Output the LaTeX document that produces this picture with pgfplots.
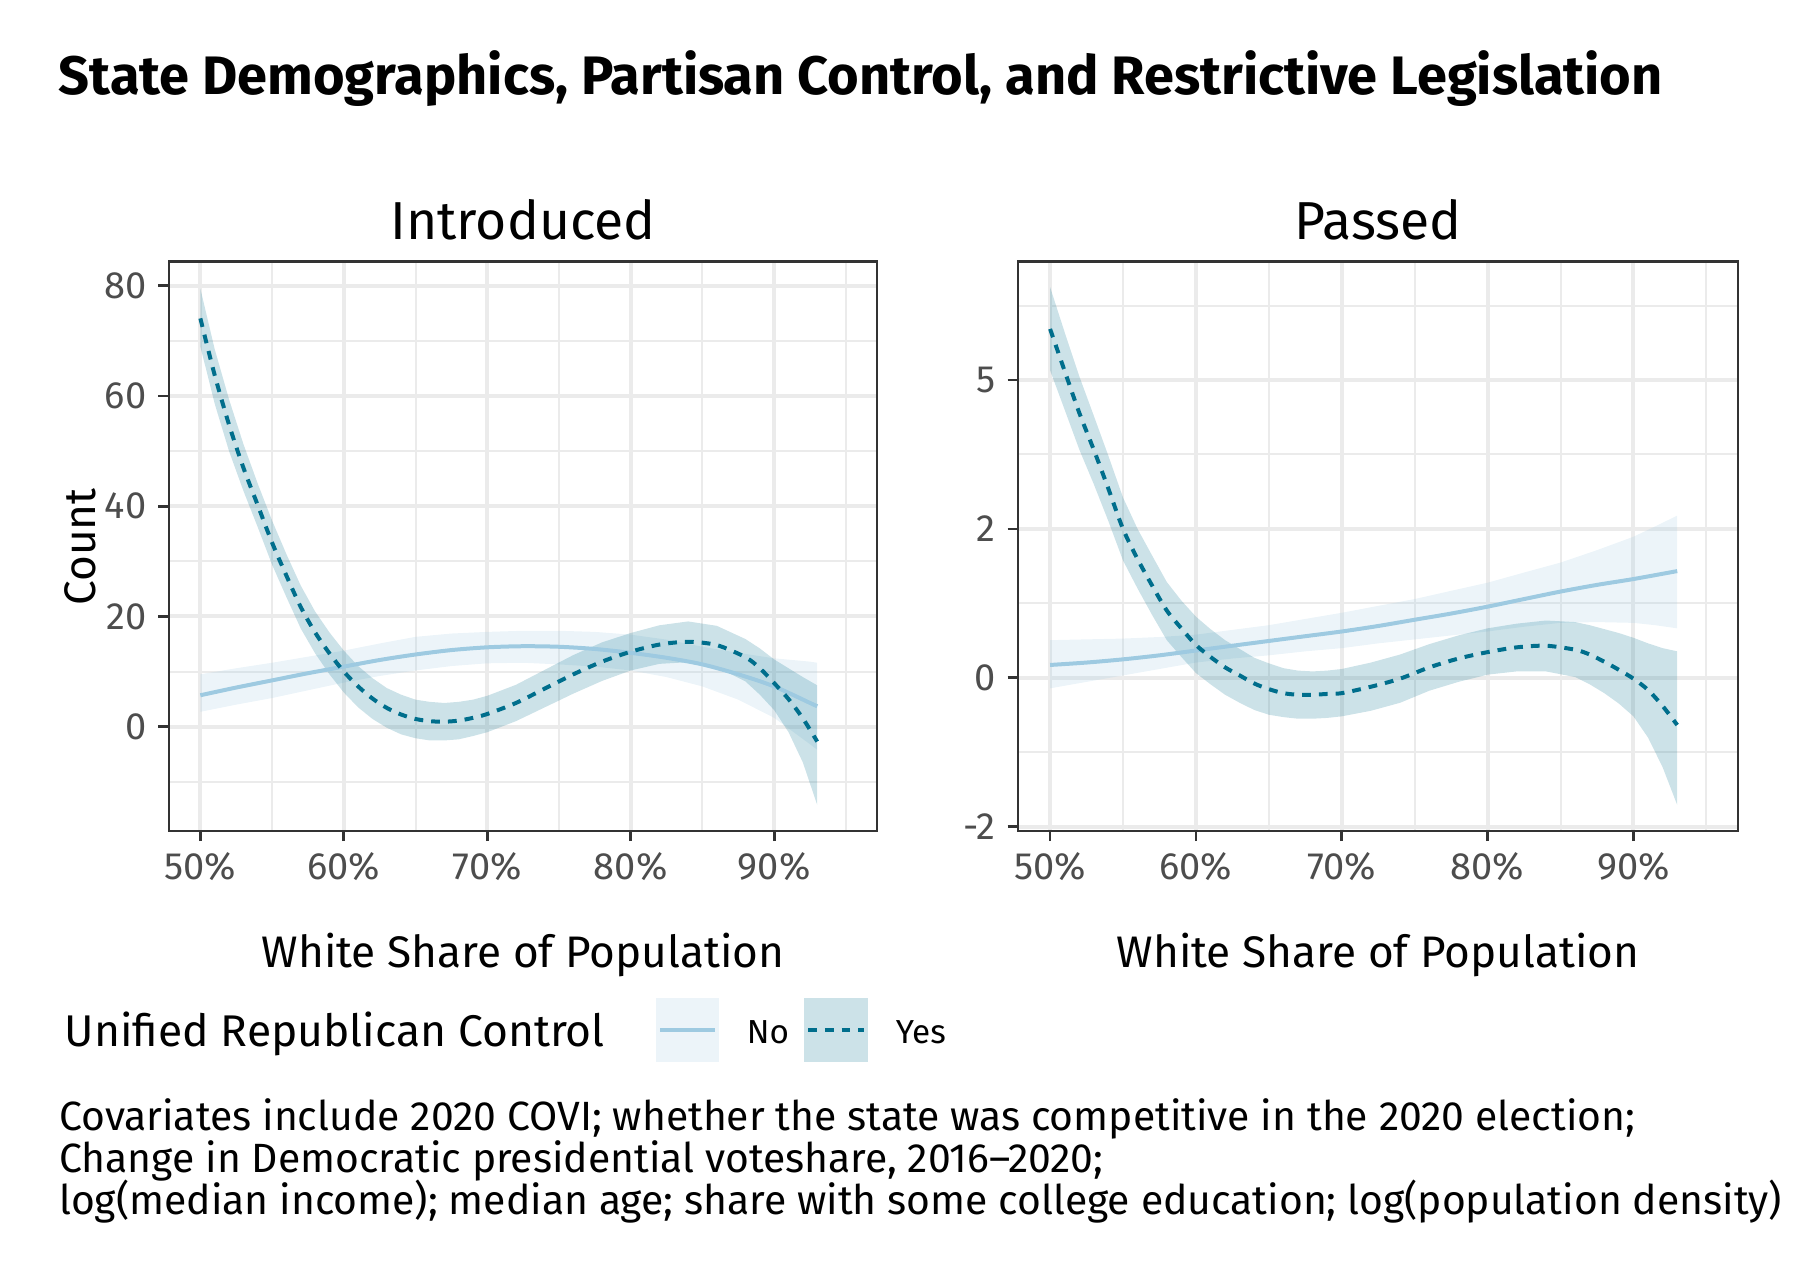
\documentclass[border=0pt]{standalone}
\usepackage{fontspec}
\setmainfont{Fira Sans}
\usepackage{pgfplots}
\pgfplotsset{compat=1.18}
\usepackage{pgfplotstable}
\usepackage{graphicx}

\definecolor{nocol}{HTML}{9ECAE1}
\definecolor{yescol}{HTML}{006E8C}
\definecolor{gridcol}{HTML}{EBEBEB}
\definecolor{framecol}{HTML}{333333}
\definecolor{tickcol}{HTML}{4D4D4D}

\newsavebox\measbox
\newcommand\calcsize[3]{\sbox\measbox{\fontsize{10}{12}\selectfont #3}\pgfmathsetmacro#1{10*#2/\the\wd\measbox}}
% pseudo-log scale of the "Passed" panel: t = asinh(3y/8)/ln 2  (2 -> 1, 5 -> 2, -2 -> -1)
\newcommand\tr[1]{ln(0.375*(#1)+sqrt(0.140625*(#1)*(#1)+1))/ln(2)}

% ===== Introduced, Yes: fitted line =====
\pgfplotstableread{
x y
50 74.1
51 63.8
52 54.8
53 47.0
54 40.2
55 33.4
56 27.4
57 21.7
58 17.1
59 13.3
60 10.0
61 7.3
62 5.1
63 3.4
64 2.2
65 1.4
66 1.0
67 0.9
68 1.1
69 1.6
70 2.3
72 4.3
74 6.9
76 9.5
78 11.8
80 13.6
82 14.9
84 15.4
86 14.8
88 12.6
89 10.6
90 7.9
91 5.0
92 1.5
93 -2.7
}\yesIntroFit
% ===== Introduced, Yes: confidence band (upper, then lower reversed) =====
\pgfplotstableread{
x y
50 79.5
51 68.5
52 59.4
53 51.3
54 44.1
55 37.4
56 31.3
57 25.6
58 20.9
59 17.1
60 13.8
61 11.0
62 8.8
63 7.0
64 5.8
65 4.9
66 4.5
67 4.3
68 4.5
69 4.9
70 5.6
72 7.6
74 10.3
76 13.0
78 15.3
80 17.0
82 18.4
84 19.1
86 18.3
88 15.9
89 14.2
90 12.2
91 10.6
92 9.0
93 7.5
93 -14.2
92 -6.5
91 -1.0
90 3.0
89 5.8
88 8.2
86 10.8
84 11.7
82 11.4
80 10.2
78 8.3
76 6.0
74 3.5
72 1.0
70 -1.0
69 -1.7
68 -2.3
67 -2.5
66 -2.5
65 -2.1
64 -1.4
63 -0.2
62 1.4
61 3.5
60 6.2
59 9.5
58 13.3
57 17.8
56 23.5
55 29.4
54 36.2
53 42.8
52 50.0
51 58.6
50 69.0
}\yesIntroBand

% ===== Introduced, No =====
\pgfplotstableread{
x y
50 5.7
52.5 7.1
55 8.4
57.5 9.7
60 10.9
62.5 12.1
65 13.1
67.5 13.9
70 14.4
72.5 14.6
75 14.5
77.5 14.1
80 13.4
82.5 12.5
85 11.3
87.5 9.5
90 7.3
92.5 4.3
93 3.7
}\noIntroFit
\pgfplotstableread{
x y
50 9.5
52.5 10.6
55 11.6
57.5 12.7
60 13.8
62.5 15.1
65 16.3
67.5 16.9
70 17.2
72.5 17.4
75 17.4
77.5 17.2
80 16.7
82.5 15.8
85 14.5
87.5 13.4
90 12.4
92.5 11.8
93 11.6
93 -4.2
92.5 -3.2
90 1.6
87.5 4.9
85 7.3
82.5 9.0
80 10.2
77.5 10.9
75 11.3
72.5 11.6
70 11.5
67.5 11.0
65 10.2
62.5 9.2
60 8.0
57.5 6.6
55 5.2
52.5 4.0
50 2.7
}\noIntroBand

% ===== Passed, Yes =====
\pgfplotstableread{
x y
50 6.50
51 5.24
52 4.19
53 3.39
54 2.66
55 2.00
56 1.55
57 1.18
58 0.85
59 0.62
60 0.41
61 0.26
62 0.13
63 0.03
64 -0.07
65 -0.14
66 -0.19
67 -0.21
68 -0.21
69 -0.20
70 -0.19
72 -0.11
74 -0.01
76 0.13
78 0.24
80 0.32
82 0.38
84 0.40
86 0.35
87 0.29
88 0.20
89 0.10
90 -0.01
91 -0.15
92 -0.35
93 -0.59
}\yesPassedFit
\pgfplotstableread{
x y
50 8.00
51 6.39
52 5.10
53 4.12
54 3.27
55 2.51
56 2.00
57 1.60
58 1.23
59 0.98
60 0.77
61 0.61
62 0.47
63 0.36
64 0.25
65 0.18
66 0.12
67 0.09
68 0.08
69 0.09
70 0.11
72 0.19
74 0.29
76 0.42
78 0.53
80 0.62
82 0.68
84 0.72
86 0.70
87 0.66
88 0.61
89 0.56
90 0.50
91 0.43
92 0.37
93 0.33
93 -1.67
92 -1.14
91 -0.75
90 -0.48
89 -0.32
88 -0.19
87 -0.08
86 0.01
84 0.08
82 0.08
80 0.04
78 -0.05
76 -0.16
74 -0.31
72 -0.41
70 -0.48
69 -0.50
68 -0.51
67 -0.51
66 -0.49
65 -0.46
64 -0.40
63 -0.31
62 -0.21
61 -0.08
60 0.06
59 0.26
58 0.47
57 0.79
56 1.14
55 1.53
54 2.12
53 2.74
52 3.40
51 4.26
50 5.26
}\yesPassedBand

% ===== Passed, No =====
\pgfplotstableread{
x y
50 0.16
52.5 0.19
55 0.23
57.5 0.28
60 0.34
62.5 0.40
65 0.46
67.5 0.52
70 0.58
72.5 0.65
75 0.73
77.5 0.81
80 0.90
82.5 1.00
85 1.10
87.5 1.19
90 1.27
93 1.38
}\noPassedFit
\pgfplotstableread{
x y
50 0.47
52.5 0.48
55 0.49
57.5 0.51
60 0.54
62.5 0.60
65 0.66
67.5 0.74
70 0.82
72.5 0.91
75 1.00
77.5 1.11
80 1.22
82.5 1.36
85 1.50
87.5 1.68
90 1.88
91.5 2.04
93 2.21
93 0.62
91.5 0.66
90 0.69
87.5 0.70
85 0.69
82.5 0.64
80 0.58
77.5 0.53
75 0.48
72.5 0.43
70 0.37
67.5 0.33
65 0.28
62.5 0.24
60 0.19
57.5 0.11
55 0.03
52.5 -0.05
50 -0.13
}\noPassedBand

\pgfplotsset{
  panel/.style={
    scale only axis, anchor=north west,
    xmin=47.8, xmax=97.17,
    xtick={50,60,70,80,90},
    xticklabels={50\%,60\%,70\%,80\%,90\%},
    minor xtick={55,65,75,85,95},
    grid=both,
    major grid style={draw=gridcol, line width=1pt},
    minor grid style={draw=gridcol, line width=0.5pt},
    axis line style={draw=framecol, line width=0.6pt},
    tick pos=left, tick align=outside,
    major tick length=2.6pt, minor tick length=0pt,
    tick style={draw=framecol, line width=0.7pt},
    tick label style={font=\fontsize{9.5}{10}\selectfont, text=tickcol},
    xticklabel style={inner sep=0pt, yshift=-2.6pt},
    yticklabel style={inner sep=0pt, xshift=-2.8pt},
    /pgf/number format/assume math mode=true,
  },
  noband/.style={fill=nocol, fill opacity=0.2, draw=none, no markers},
  yesband/.style={fill=yescol, fill opacity=0.2, draw=none, no markers},
  noline/.style={draw=nocol, line width=1pt, smooth, no markers},
  yesline/.style={draw=yescol, line width=1pt, dash pattern=on 2.2pt off 2pt, smooth, no markers},
}

\begin{document}%
\calcsize{\titlesize}{401}{\bfseries State Demographics, Partisan Control, and Restrictive Legislation}%
\calcsize{\facetsize}{66.3}{Introduced}%
\calcsize{\labsize}{130.6}{White Share of Population}%
\calcsize{\legtitlesize}{135}{Unified Republican Control}%
\calcsize{\legsize}{12.5}{Yes}%
\calcsize{\capsize}{394}{Covariates include 2020 COVI; whether the state was competitive in the 2020 election;}%
\begin{tikzpicture}
\path[use as bounding box] (0pt,0pt) rectangle (450pt,-318.25pt);

% ---------------- Introduced ----------------
\begin{axis}[panel, at={(42.2pt,-65.4pt)}, width=177.06pt, height=142.3pt,
  ymin=-18.9, ymax=84.4,
  ytick={0,20,40,60,80}, minor ytick={-10,10,30,50,70}]
\addplot[noband] table[x=x,y=y]{\noIntroBand} -- cycle;
\addplot[yesband] table[x=x,y=y]{\yesIntroBand} -- cycle;
\addplot[noline] table[x=x,y=y]{\noIntroFit};
\addplot[yesline] table[x=x,y=y]{\yesIntroFit};
\end{axis}

% ---------------- Passed (pseudo-log y scale) ----------------
\begin{axis}[panel, at={(254.5pt,-65.4pt)}, width=180pt, height=142.3pt,
  ymin=-1.027, ymax=2.795,
  ytick={-1,0,1,2}, yticklabels={-2,0,2,5},
  minor ytick={-0.5,0.5,1.5,2.5}]
\addplot[noband] table[x=x,y expr={\tr{\thisrow{y}}}]{\noPassedBand} -- cycle;
\addplot[yesband] table[x=x,y expr={\tr{\thisrow{y}}}]{\yesPassedBand} -- cycle;
\addplot[noline] table[x=x,y expr={\tr{\thisrow{y}}}]{\noPassedFit};
\addplot[yesline] table[x=x,y expr={\tr{\thisrow{y}}}]{\yesPassedFit};
\end{axis}

% ---------------- Texts ----------------
\node[anchor=base west, inner sep=0pt] at (14.5pt,-23.75pt)
  {\fontsize{\titlesize}{\titlesize}\selectfont\bfseries State Demographics, Partisan Control, and Restrictive Legislation};
\node[anchor=base, inner sep=0pt] at (130.75pt,-59.75pt) {\fontsize{\facetsize}{\facetsize}\selectfont Introduced};
\node[anchor=base, inner sep=0pt] at (344.5pt,-59.75pt) {\fontsize{\facetsize}{\facetsize}\selectfont Passed};
\node[anchor=base, inner sep=0pt] at (130.75pt,-241.75pt) {\fontsize{\labsize}{\labsize}\selectfont White Share of Population};
\node[anchor=base, inner sep=0pt] at (344.5pt,-241.75pt) {\fontsize{\labsize}{\labsize}\selectfont White Share of Population};
\node[anchor=base, inner sep=0pt, rotate=90] at (23.75pt,-136.75pt) {\fontsize{\labsize}{\labsize}\selectfont Count};

% legend
\node[anchor=base west, inner sep=0pt] at (16.0pt,-261.5pt) {\fontsize{\legtitlesize}{\legtitlesize}\selectfont Unified Republican Control};
\fill[nocol, fill opacity=0.2] (164pt,-249.5pt) rectangle (179.75pt,-265.5pt);
\draw[nocol, line width=1pt] (165pt,-257.5pt) -- (178.75pt,-257.5pt);
\node[anchor=base west, inner sep=0pt] at (186.5pt,-260.75pt) {\fontsize{\legsize}{\legsize}\selectfont No};
\fill[yescol, fill opacity=0.2] (201pt,-249.5pt) rectangle (217pt,-265.5pt);
\draw[yescol, line width=1pt, dash pattern=on 2.2pt off 2pt] (202pt,-257.5pt) -- (216pt,-257.5pt);
\node[anchor=base west, inner sep=0pt] at (223.75pt,-260.75pt) {\fontsize{\legsize}{\legsize}\selectfont Yes};

% caption
\node[anchor=base west, inner sep=0pt] at (14.6pt,-282.5pt) {\fontsize{\capsize}{\capsize}\selectfont Covariates include 2020 COVI; whether the state was competitive in the 2020 election;};
\node[anchor=base west, inner sep=0pt] at (14.6pt,-293pt) {\fontsize{\capsize}{\capsize}\selectfont Change in Democratic presidential voteshare, 2016--2020;};
\node[anchor=base west, inner sep=0pt] at (14.6pt,-303.5pt) {\fontsize{\capsize}{\capsize}\selectfont log(median income); median age; share with some college education; log(population density)};
\end{tikzpicture}%
\end{document}
